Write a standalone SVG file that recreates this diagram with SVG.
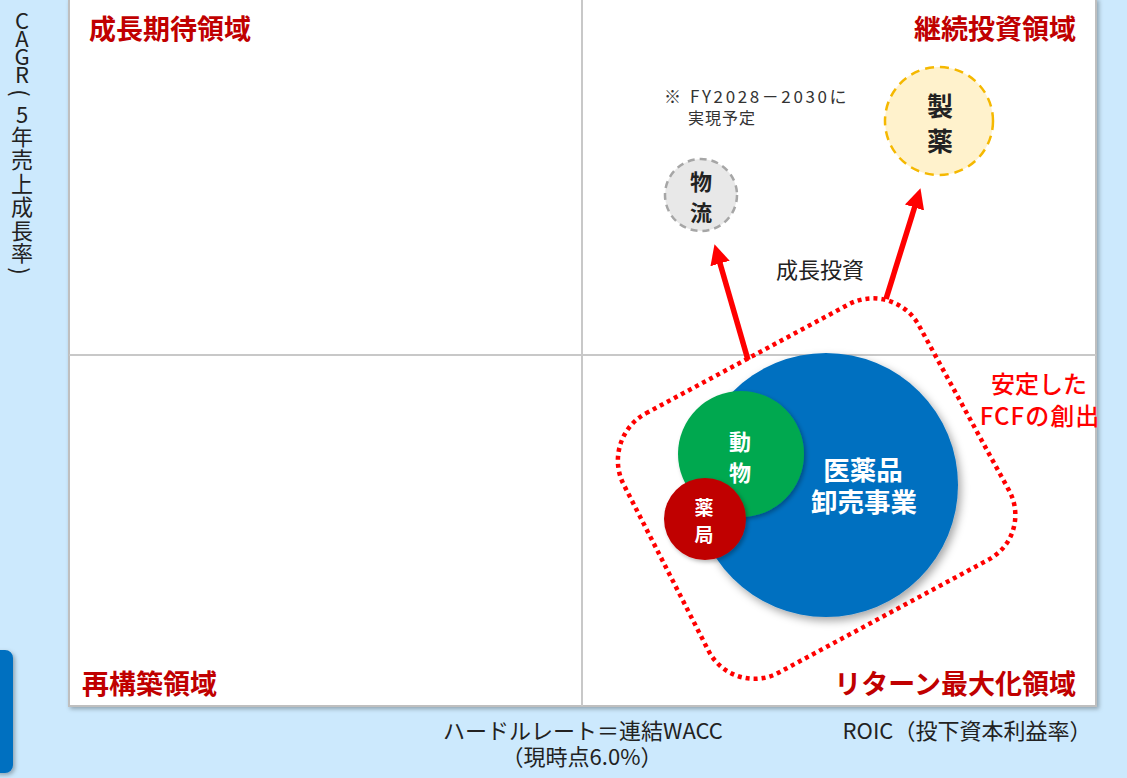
<svg xmlns="http://www.w3.org/2000/svg" width="1127" height="778" viewBox="0 0 1127 778">
<defs>
<style>
.t{font-family:"Noto Sans CJK JP","Noto Sans",sans-serif}
.quad{font-size:27px;font-weight:700;fill:#C00000}
.axis{font-size:22px;fill:#222}
.ya{fill:#222;text-anchor:middle;font-size:22px}
.wt{fill:#fff;font-weight:700;text-anchor:middle}
.dk{fill:#222;font-weight:700;text-anchor:middle}
.arrow{stroke:#FF0000;stroke-width:5.5;fill:none}
</style>
<marker id="ah" viewBox="0 0 10 10" markerUnits="userSpaceOnUse" markerWidth="20" markerHeight="22" refX="3" refY="5" orient="auto">
<path d="M0,0 L10,5 L0,10 z" fill="#FF0000"/>
</marker>
<filter id="sh" x="-20%" y="-20%" width="150%" height="150%">
<feDropShadow dx="3" dy="4" stdDeviation="4" flood-color="#000" flood-opacity="0.35"/>
</filter>
<filter id="sh2" x="-20%" y="-20%" width="150%" height="150%">
<feDropShadow dx="2" dy="2" stdDeviation="2" flood-color="#000" flood-opacity="0.3"/>
</filter>
</defs>
<rect x="0" y="0" width="1127" height="778" fill="#CCE9FD"/>
<g id="side-tab"><rect x="-10" y="650" width="23" height="123" rx="8" fill="#0070C0" filter="url(#sh2)"/></g>
<g id="plot">
<rect x="69" y="-1" width="1027" height="707" fill="#FFFFFF" stroke="#BFBFBF" stroke-width="2" filter="url(#sh2)"/>
<line x1="582" y1="0" x2="582" y2="706" stroke="#C8C8C8" stroke-width="2"/>
<line x1="69" y1="355" x2="1096" y2="355" stroke="#C8C8C8" stroke-width="2"/>
</g>
<g id="y-axis-label">
<text class="t ya" x="22 22 22 22" y="29 47 65 83">CAGR</text>
<text class="t ya" transform="translate(22 93) rotate(90)" dominant-baseline="central">(</text>
<text class="t ya" x="22 22 22 22 22 22 22" y="123 145 168 192 215 239 261">5年売上成長率</text>
<text class="t ya" transform="translate(22 271) rotate(90)" dominant-baseline="central">)</text>
</g>
<g id="x-axis-labels">
<text class="t axis" x="583" y="739" text-anchor="middle">ハードルレート＝連結WACC</text>
<text class="t axis" x="582" y="765" text-anchor="middle" font-size="20.5">（現時点6.0%）</text>
<text class="t axis" x="967" y="739" text-anchor="middle">ROIC（投下資本利益率）</text>
</g>
<g id="quadrant-labels">
<text class="t quad" x="89" y="39">成長期待領域</text>
<text class="t quad" x="1076" y="39" text-anchor="end">継続投資領域</text>
<text class="t quad" x="82" y="694">再構築領域</text>
<text class="t quad" x="1076" y="694" text-anchor="end">リターン最大化領域</text>
</g>
<g id="fcf-region">
<path d="M645.8,413.4 L848.2,304.6 C873.5,291 905.2,300.4 919,325.6 L1009,490.4 C1022.8,515.6 1013.3,546.8 987.9,560 L778,673 C752.7,686.2 721.4,676.2 708.4,650.6 L623.6,484.4 C610.6,458.8 620.5,427 645.8,413.4 Z" fill="none" stroke="#FF0000" stroke-width="4.5" stroke-dasharray="4 4"/>
</g>
<g id="fcf-label">
<text class="t" x="1039" y="393" text-anchor="middle" font-size="24" font-weight="500" fill="#FF0000">安定した</text>
<text class="t" x="1040" y="425" text-anchor="middle" font-size="24" font-weight="500" fill="#FF0000" letter-spacing="1">FCFの創出</text>
</g>
<g id="connectors">
<line class="arrow" x1="748" y1="360" x2="718.4" y2="257.7" marker-end="url(#ah)"/>
<line class="arrow" x1="886" y1="299" x2="916.3" y2="201.7" marker-end="url(#ah)"/>
<text class="t" x="820" y="278" text-anchor="middle" font-size="22" fill="#222">成長投資</text>
</g>
<g id="wholesale">
<circle cx="826" cy="485" r="132" fill="#0070C0" filter="url(#sh)"/>
<text class="t wt" x="863" y="480" font-size="26.5">医薬品</text>
<text class="t wt" x="864" y="512" font-size="26.5">卸売事業</text>
</g>
<g id="animal">
<circle cx="741" cy="454" r="63" fill="#00A84F" filter="url(#sh2)"/>
<text class="t wt" x="740" y="450" font-size="22">動</text>
<text class="t wt" x="740" y="481" font-size="22">物</text>
</g>
<g id="pharmacy">
<circle cx="705" cy="519" r="41" fill="#C00000" filter="url(#sh2)"/>
<text class="t wt" x="704" y="515" font-size="19">薬</text>
<text class="t wt" x="704" y="542" font-size="19">局</text>
</g>
<g id="logistics">
<circle cx="701" cy="195" r="36" fill="#E8E8E8" stroke="#A6A6A6" stroke-width="2.5" stroke-dasharray="7 5"/>
<text class="t dk" x="701" y="190" font-size="22">物</text>
<text class="t dk" x="701" y="221" font-size="22">流</text>
</g>
<g id="pharma-mfg">
<circle cx="939" cy="121" r="54" fill="#FFF2CC" stroke="#F5B800" stroke-width="2.5" stroke-dasharray="9 6"/>
<text class="t dk" x="940" y="116" font-size="26">製</text>
<text class="t dk" x="940" y="151" font-size="26">薬</text>
</g>
<g id="note">
<text class="t" x="664" y="103" font-size="17" fill="#333" letter-spacing="2.6">※ FY2028－2030に</text>
<text class="t" x="688" y="124" font-size="16" fill="#333" letter-spacing="1">実現予定</text>
</g>
</svg>
